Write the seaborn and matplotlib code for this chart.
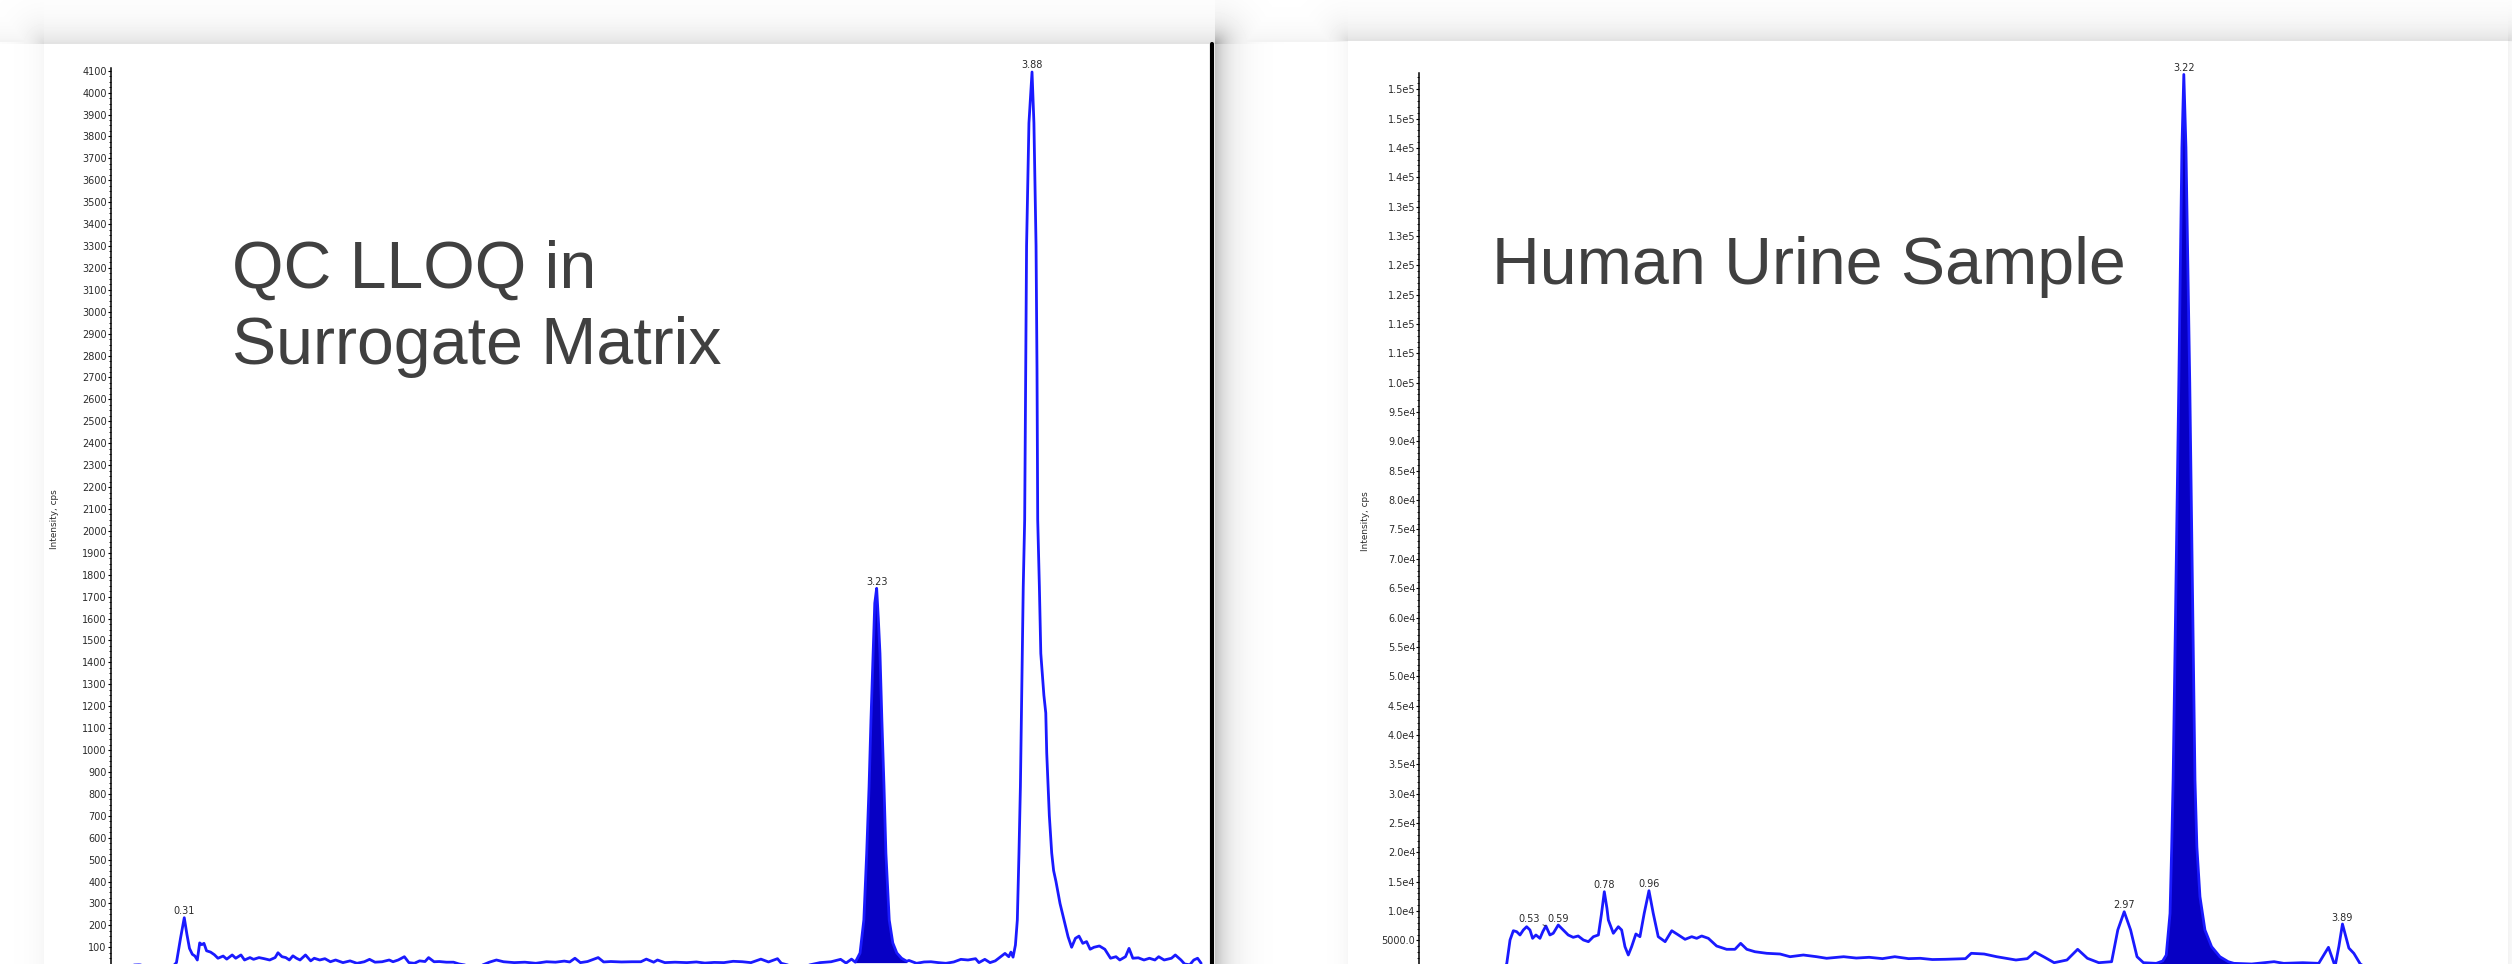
import numpy as np
import pandas as pd
import matplotlib
matplotlib.use("Agg")
import matplotlib.pyplot as plt
from matplotlib.lines import Line2D
from matplotlib.ticker import MultipleLocator
import seaborn as sns

W, H, DPI = 2512, 964, 100

# ---- left chromatogram: QC LLOQ in surrogate matrix (time min / intensity cps)
qc_time = [0.07, 0.12, 0.17, 0.22, 0.262, 0.278, 0.295, 0.311, 0.322, 0.333, 0.345, 0.356,
           0.366, 0.376, 0.385, 0.394, 0.405, 0.422, 0.438, 0.453, 0.475, 0.490, 0.513, 0.528,
           0.550, 0.565, 0.588, 0.603, 0.626, 0.648, 0.671, 0.694, 0.706, 0.723, 0.739, 0.754,
           0.769, 0.784, 0.799, 0.822, 0.844, 0.859, 0.882, 0.904, 0.927, 0.949, 0.980, 1.010,
           1.039, 1.070, 1.092, 1.115, 1.145, 1.175, 1.191, 1.213, 1.239, 1.258, 1.281, 1.303,
           1.326, 1.341, 1.364, 1.386, 1.416, 1.446, 1.469, 1.516, 1.566, 1.597, 1.627, 1.657,
           1.702, 1.747, 1.793, 1.838, 1.876, 1.913, 1.936, 1.958, 1.981, 2.011, 2.056, 2.079,
           2.109, 2.154, 2.199, 2.236, 2.259, 2.290, 2.306, 2.337, 2.380, 2.430, 2.470, 2.506,
           2.545, 2.586, 2.625, 2.664, 2.700, 2.742, 2.774, 2.812, 2.828, 2.860, 2.900, 2.941,
           2.991, 3.038, 3.078, 3.101, 3.124, 3.140, 3.160, 3.176, 3.188, 3.198, 3.206, 3.215,
           3.222, 3.230, 3.237, 3.244, 3.252, 3.261, 3.269, 3.283, 3.298, 3.315, 3.335, 3.357,
           3.366, 3.398, 3.430, 3.459, 3.490, 3.522, 3.555, 3.585, 3.615, 3.647, 3.661, 3.686,
           3.708, 3.730, 3.748, 3.771, 3.787, 3.796, 3.805, 3.815, 3.823, 3.830, 3.836, 3.840,
           3.844, 3.848, 3.854, 3.862, 3.872, 3.885, 3.893, 3.902, 3.906, 3.909, 3.916, 3.922,
           3.935, 3.943, 3.947, 3.958, 3.968, 3.976, 3.986, 4.003, 4.020, 4.037, 4.052, 4.068,
           4.083, 4.099, 4.115, 4.130, 4.146, 4.169, 4.192, 4.216, 4.239, 4.255, 4.279, 4.294,
           4.310, 4.333, 4.357, 4.380, 4.403, 4.419, 4.442, 4.473, 4.489, 4.513, 4.528, 4.550,
           4.567, 4.583, 4.598]
qc_int = [18, 20, 15, 19, 12, 30, 140, 235, 160, 95, 68, 60,
          42, 120, 112, 118, 84, 78, 66, 50, 60, 46, 65, 50,
          65, 42, 53, 45, 53, 48, 42, 53, 75, 57, 53, 42,
          61, 50, 42, 65, 38, 50, 42, 48, 34, 42, 30, 38,
          27, 34, 45, 32, 34, 42, 34, 42, 57, 30, 27, 38,
          35, 53, 34, 35, 32, 32, 24, 15, 18, 32, 42, 34,
          30, 32, 27, 34, 32, 37, 33, 50, 30, 35, 53, 33,
          35, 33, 34, 34, 46, 32, 42, 30, 32, 30, 33, 28,
          31, 30, 36, 34, 30, 46, 33, 48, 27, 18, 15, 18,
          30, 34, 45, 28, 46, 32, 74, 225, 529, 833, 1137, 1441,
          1670, 1738, 1600, 1441, 1137, 833, 529, 225, 120, 74, 50, 36,
          40, 27, 33, 34, 30, 27, 33, 45, 42, 48, 30, 45,
          30, 38, 53, 72, 57, 78, 55, 110, 224, 530, 833, 1137,
          1441, 1745, 2050, 3300, 3861, 4094, 3861, 3300, 2740, 2050, 1745, 1441,
          1250, 1169, 986, 700, 530, 450, 400, 300, 224, 148, 100, 141,
          151, 118, 126, 91, 100, 106, 91, 50, 57, 42, 57, 95,
          50, 52, 42, 50, 42, 57, 42, 50, 65, 42, 24, 20,
          42, 50, 27]
qc_peak_labels = ["0.31", "3.23", "3.88"]
qc_peak_times = [0.311, 3.230, 3.885]
qc_yticks = list(range(100, 4200, 100))

# ---- right chromatogram: human urine sample
ur_time = [0.300, 0.355, 0.368, 0.382, 0.396, 0.410, 0.424, 0.438, 0.452, 0.466, 0.477, 0.491,
           0.508, 0.520, 0.533, 0.550, 0.564, 0.585, 0.606, 0.627, 0.648, 0.669, 0.691, 0.712,
           0.733, 0.754, 0.767, 0.779, 0.790, 0.796, 0.817, 0.838, 0.852, 0.866, 0.880, 0.894,
           0.912, 0.929, 0.947, 0.967, 0.985, 1.006, 1.035, 1.063, 1.091, 1.119, 1.147, 1.168,
           1.189, 1.217, 1.252, 1.294, 1.329, 1.353, 1.379, 1.413, 1.463, 1.519, 1.561, 1.617,
           1.673, 1.715, 1.787, 1.840, 1.894, 1.950, 2.002, 2.060, 2.109, 2.160, 2.216, 2.300,
           2.324, 2.378, 2.431, 2.512, 2.560, 2.592, 2.633, 2.673, 2.727, 2.772, 2.813, 2.861,
           2.915, 2.941, 2.968, 2.995, 3.022, 3.049, 3.103, 3.130, 3.145, 3.161, 3.168, 3.174,
           3.184, 3.198, 3.211, 3.219, 3.228, 3.244, 3.257, 3.266, 3.274, 3.287, 3.308, 3.336,
           3.371, 3.406, 3.430, 3.505, 3.599, 3.640, 3.720, 3.787, 3.828, 3.856, 3.872, 3.887,
           3.914, 3.935, 3.962, 3.990, 4.200, 4.500]
ur_int = [0, 300, 988, 5075, 6660, 6490, 5930, 6780, 7340, 6780, 5360, 5930,
          5360, 6500, 7460, 5930, 6220, 7630, 6780, 5930, 5530, 5760, 5075, 4790,
          5640, 5930, 9500, 13300, 10500, 8480, 6220, 7340, 6780, 3935, 2520, 3935,
          6100, 5640, 9620, 13470, 9620, 5640, 4790, 6660, 5930, 5190, 5640, 5360,
          5760, 5360, 4050, 3490, 3490, 4510, 3490, 3080, 2810, 2690, 2230, 2520,
          2230, 1960, 2230, 2000, 2130, 1900, 2230, 1900, 1960, 1750, 1790, 1900,
          2810, 2690, 2230, 1670, 1900, 3030, 2130, 1210, 1670, 3490, 1960, 1210,
          1380, 6780, 9890, 6780, 2230, 1210, 1100, 1500, 2500, 9620, 20960, 32320,
          60000, 100000, 140000, 152500, 140000, 100000, 60000, 32320, 20960, 12450, 6780, 3935,
          2230, 1380, 1100, 990, 1380, 1100, 1210, 1100, 3830, 600, 4000, 7800,
          3700, 2800, 990, 300, 400, 350]
ur_peak_labels = ["0.53", "0.59", "0.78", "0.96", "2.97", "3.22", "3.89"]
ur_peak_times = [0.533, 0.585, 0.779, 0.967, 2.968, 3.219, 3.887]
ur_yticks = list(range(5000, 155000, 5000))
ur_ytick_labels = ["5000.0", "1.0e4", "1.5e4", "2.0e4", "2.5e4", "3.0e4", "3.5e4", "4.0e4",
                   "4.5e4", "5.0e4", "5.5e4", "6.0e4", "6.5e4", "7.0e4", "7.5e4", "8.0e4",
                   "8.5e4", "9.0e4", "9.5e4", "1.0e5", "1.1e5", "1.1e5", "1.2e5", "1.2e5",
                   "1.3e5", "1.3e5", "1.4e5", "1.4e5", "1.5e5", "1.5e5"]

LINE = "#1a1aff"
FILL = "#0700c4"
TXT = "#2a2a2a"
SMALL = 7.0

sns.set_style("ticks")
plt.rcParams["font.family"] = ["DejaVu Sans"]

fig = plt.figure(figsize=(W / DPI, H / DPI), dpi=DPI)

# backdrop: two white "pages" with soft drop shadows
yy, xx = np.mgrid[0:H, 0:W].astype(float)


def page_shadow(x0, x1, y0, a_top, a_left, a_right, s_top, s_side):
    dxl = np.clip(x0 - xx, 0, None)
    dxr = np.clip(xx - x1, 0, None)
    dy = np.clip(y0 - yy, 0, None)
    sh = a_top * np.exp(-np.hypot(np.maximum(dxl, dxr), dy) / s_top) * (dy > 0)
    sh = sh + a_left * np.exp(-np.hypot(dxl, dy) / s_side) * (dxl > 0)
    sh = sh + a_right * np.exp(-np.hypot(dxr, dy) / s_side) * (dxr > 0)
    return sh


sh = np.maximum(page_shadow(44, 1214, 44, 0.12, 0.035, 0.26, 17, 14),
                page_shadow(1348, 2507, 41, 0.12, 0.035, 0.05, 17, 10))
sh = np.maximum(sh, 0.05 * np.exp(-np.clip(42 - yy, 0, None) / 14) * (yy < 42))
bg = 1 - sh
bg[(xx >= 44) & (xx <= 1214) & (yy >= 44)] = 1
bg[(xx >= 1348) & (xx <= 2507) & (yy >= 41)] = 1
bg_ax = fig.add_axes([0, 0, 1, 1], zorder=0)
bg_ax.imshow(bg, cmap="gray", vmin=0, vmax=1, aspect="auto", interpolation="bilinear")
bg_ax.axis("off")
fig.add_artist(Line2D([1212 / W, 1212 / W], [0, 1 - 44 / H], color="black", lw=3.0, zorder=1))


def chromatogram(rect, xmax, ymax, t, v, fill_range, base, labels, ltimes):
    ax = fig.add_axes(rect, zorder=2)
    ax.set_facecolor("none")
    df = pd.DataFrame({"time": t, "intensity": v})
    sns.lineplot(data=df, x="time", y="intensity", ax=ax, color=LINE, lw=2.0,
                 estimator=None, sort=False)
    pk = df[(df.time >= fill_range[0]) & (df.time <= fill_range[1])]
    ax.fill_between(pk.time, pk.intensity, base, color=FILL, lw=0, zorder=1)
    ax.set_xlim(0, xmax)
    ax.set_ylim(0, ymax)
    for lab, lt in zip(labels, ltimes):
        yv = np.interp(lt, t, v)
        if lab == "0.53":
            ax.annotate(lab, xy=(lt, yv), xytext=(-17, 7), textcoords="offset pixels",
                        ha="center", va="center", fontsize=SMALL, color=TXT,
                        arrowprops=dict(arrowstyle="-", lw=0.6, color=TXT, shrinkA=4, shrinkB=0))
        else:
            ax.annotate(lab, xy=(lt, yv), xytext=(0, 6.5), textcoords="offset pixels",
                        ha="center", va="center", fontsize=SMALL, color=TXT,
                        annotation_clip=False)
    for s in ("top", "right", "bottom"):
        ax.spines[s].set_visible(False)
    ax.spines["left"].set_linewidth(1.1)
    ax.spines["left"].set_color("black")
    ax.set_xticks([])
    ax.set_xlabel("")
    ax.tick_params(axis="y", which="major", length=2.3, width=0.8, pad=0.5,
                   labelsize=SMALL, labelcolor=TXT, color="black")
    ax.tick_params(axis="y", which="minor", length=1.3, width=0.6, color="black")
    return ax


ax1 = chromatogram([110.5 / W, (H - 969.2) / H, 4.64 * 237.2 / W, 4110 * 0.21915 / H],
                   4.64, 4110, qc_time, qc_int, (3.14, 3.36), 30, qc_peak_labels, qc_peak_times)
ax1.set_yticks(qc_yticks)
ax1.yaxis.set_minor_locator(MultipleLocator(25))
ax1.set_ylabel("Intensity, cps", fontsize=6.4, color=TXT)
ax1.yaxis.set_label_coords((59 - 110.5) / (4.64 * 237.2), 0.5)

ax2 = chromatogram([1419.3 / W, (H - 969.8) / H, 4.5 * 237.5 / W, 152800 * 0.005871 / H],
                   4.5, 152800, ur_time, ur_int, (3.10, 3.43), 1000, ur_peak_labels, ur_peak_times)
ax2.set_yticks(ur_yticks)
ax2.set_yticklabels(ur_ytick_labels)
ax2.yaxis.set_minor_locator(MultipleLocator(1000))
ax2.set_ylabel("Intensity, cps", fontsize=6.4, color=TXT)
ax2.yaxis.set_label_coords((1370 - 1419.3) / (4.5 * 237.5), 0.5)

# slide captions
cap = dict(fontsize=47.7, color="#404040", family=["Liberation Sans", "DejaVu Sans"],
           va="baseline", ha="left", zorder=3)
fig.text(232 / W, 1 - 288 / H, "QC LLOQ in", **cap)
fig.text(232 / W, 1 - 364 / H, "Surrogate Matrix", **cap)
fig.text(1492 / W, 1 - 283.5 / H, "Human Urine Sample", **cap)

fig.savefig("out.png", dpi=DPI)
